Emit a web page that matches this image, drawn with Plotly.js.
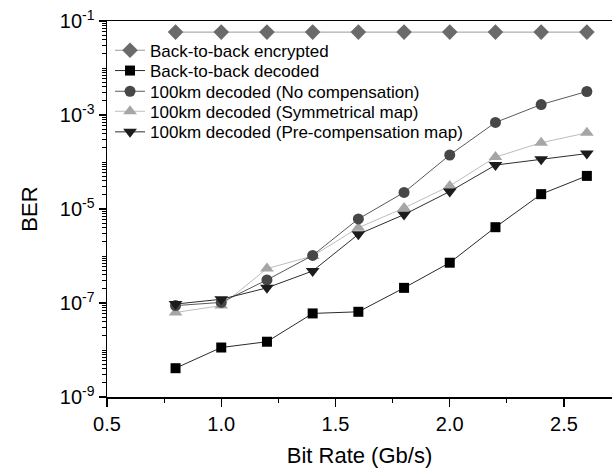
<!DOCTYPE html>
<html>
<head>
<meta charset="utf-8">
<script src="https://cdn.plot.ly/plotly-3.0.1.min.js"></script>
<style>html,body{margin:0;padding:0;background:#fff;}#chart{width:612px;height:472px;}</style>
</head>
<body>
<div id="chart"></div>
<script>
// Bit rate (Gb/s)
const bitRate = [0.8, 1.0, 1.2, 1.4, 1.6, 1.8, 2.0, 2.2, 2.4, 2.6];
// BER series
const b2bEncrypted = [0.058, 0.058, 0.058, 0.058, 0.058, 0.058, 0.058, 0.058, 0.058, 0.058];
const b2bDecoded   = [4.1e-9, 1.13e-8, 1.5e-8, 6.0e-8, 6.5e-8, 2.1e-7, 7.2e-7, 4.1e-6, 2.07e-5, 5.06e-5];
const noComp       = [8.8e-8, 1.03e-7, 3.1e-7, 1.03e-6, 6.15e-6, 2.25e-5, 1.41e-4, 6.95e-4, 1.67e-3, 3.16e-3];
const symMap       = [6.3e-8, 8.8e-8, 5.4e-7, 1.0e-6, 4.0e-6, 1.05e-5, 3.1e-5, 1.27e-4, 2.57e-4, 4.17e-4];
const preCompMap   = [9.5e-8, 1.2e-7, 2.1e-7, 4.8e-7, 2.9e-6, 7.6e-6, 2.36e-5, 8.6e-5, 1.14e-4, 1.51e-4];
const seriesNames = [
  "Back-to-back encrypted",
  "Back-to-back decoded",
  "100km decoded (No compensation)",
  "100km decoded (Symmetrical map)",
  "100km decoded (Pre-compensation map)"
];
// y tick labels (powers of ten)
const yTickExponents = [-9, -7, -5, -3, -1];
const yTickLabels = yTickExponents.map(e => "10<sup>" + e + "</sup>");

const FONT = "Liberation Sans, Arial, Helvetica, sans-serif";

function tr(y, name, legendId, sym, mColor, mSize, lColor) {
  return {
    x: bitRate, y: y, name: name, type: "scatter", mode: "lines+markers",
    legend: legendId,
    marker: {symbol: sym, color: mColor, size: mSize, line: {width: 0}},
    line: {color: lColor, width: 1}
  };
}

const traces = [
  tr(b2bEncrypted, seriesNames[0], "legend",  "diamond",       "#6a6a6a", 12, "#9a9a9a"),
  tr(b2bDecoded,   seriesNames[1], "legend2", "square",        "#000000", 10, "#2a2a2a"),
  tr(symMap,       seriesNames[3], "legend4", "triangle-up",   "#a6a6a6", 12, "#bdbdbd"),
  tr(noComp,       seriesNames[2], "legend3", "circle",        "#474747", 11, "#5a5a5a"),
  tr(preCompMap,   seriesNames[4], "legend5", "triangle-down", "#1c1c1c", 12, "#2e2e2e")
];

const plotTop = 21, plotH = 376;
function legendAt(py) {
  return {
    x: 0.006, xanchor: "left", y: 1 - (py - plotTop) / plotH, yanchor: "middle",
    bgcolor: "rgba(0,0,0,0)", borderwidth: 0,
    font: {family: FONT, size: 17, color: "#000"}
  };
}

const layout = {
  width: 612, height: 472,
  margin: {l: 107, r: 0, t: plotTop, b: 472 - plotTop - plotH},
  paper_bgcolor: "#fff", plot_bgcolor: "#fff",
  font: {family: FONT, color: "#000"},
  showlegend: true,
  legend:  legendAt(50.7),
  legend2: legendAt(71),
  legend3: legendAt(91.7),
  legend4: legendAt(111.7),
  legend5: legendAt(132.3),
  xaxis: {
    range: [0.5, 2.71], dtick: 0.5, tick0: 0.5, tickformat: ".1f",
    showline: true, linecolor: "#000", linewidth: 1.5, mirror: true,
    ticks: "outside", ticklen: 8, tickwidth: 1.2, tickcolor: "#000",
    minor: {ticks: "outside", ticklen: 4, dtick: 0.25, tickcolor: "#000", tickwidth: 1},
    showgrid: false, zeroline: false,
    tickfont: {family: FONT, size: 20},
    title: {text: "Bit Rate (Gb/s)", font: {family: FONT, size: 22}, standoff: 14}
  },
  yaxis: {
    type: "log", range: [-9, -1],
    tickmode: "array", tickvals: yTickExponents.map(e => Math.pow(10, e)), ticktext: yTickLabels,
    showline: true, linecolor: "#000", linewidth: 1.5, mirror: false,
    ticks: "outside", ticklen: 7, tickwidth: 1.2, tickcolor: "#000",
    minor: {ticks: "outside", ticklen: 4, dtick: "D1", tickcolor: "#000", tickwidth: 1},
    showgrid: false, zeroline: false,
    tickfont: {family: FONT, size: 20},
    title: {text: "BER", font: {family: FONT, size: 22}, standoff: 16}
  }
};

Plotly.newPlot("chart", traces, layout, {staticPlot: true, displayModeBar: false});
</script>
</body>
</html>
